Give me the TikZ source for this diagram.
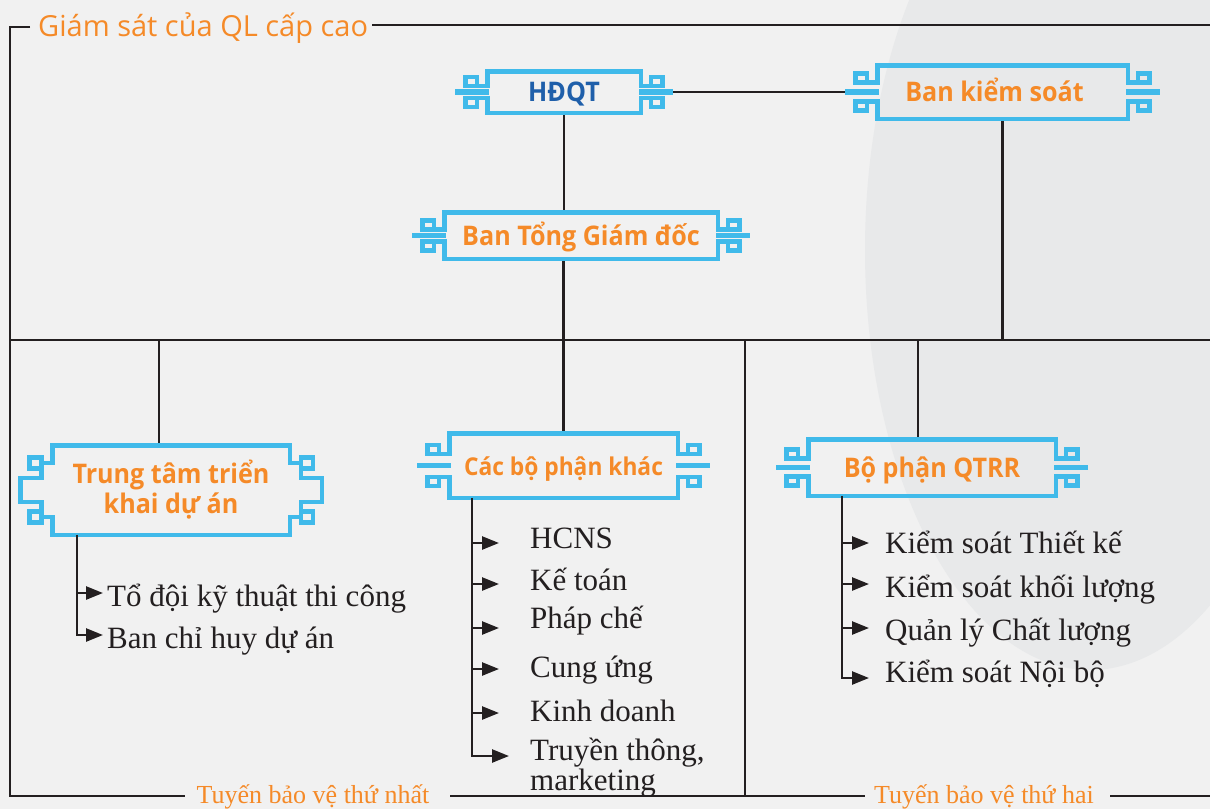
\documentclass[tikz,border=0pt]{standalone}
\usepackage{fontspec}
\setmainfont{Liberation Serif}
\newfontfamily\osans{Open Sans}
\newfontfamily\tfont[FakeStretch=0.93]{Open Sans}
\usetikzlibrary{calc,arrows.meta}
\definecolor{bgc}{HTML}{F1F1F1}
\definecolor{orn}{HTML}{40BAEA}
\definecolor{org}{HTML}{F58A28}
\definecolor{dkb}{HTML}{1F5FAA}
\definecolor{ink}{HTML}{231F20}
\definecolor{blob}{HTML}{E8E9EA}
\tikzset{
  ln/.style={draw=ink,line width=2.5pt},
  arr/.style={draw=ink,line width=2.5pt,-{Triangle[length=17pt,width=13pt]}},
  bluel/.style={draw=orn,line width=4.5pt},
  barl/.style={draw=orn,line width=5.5pt},
  title/.style={font=\tfont\bfseries\fontsize{27}{30}\selectfont,text=org,inner sep=0pt,outer sep=0pt,align=center},
  one/.style={text height=25pt,text depth=6pt},
  item/.style={font=\fontsize{31}{27}\selectfont,text=ink,inner sep=0pt,anchor=base west},
  lbl/.style={font=\fontsize{26}{30}\selectfont,text=org,inner sep=0pt,anchor=base},
}
% ornament with bars: #1 node, #2 offset of the small squares from middle
\newcommand\ornbar[2]{%
  \pgfmathsetmacro\ornA{#2-4.5}%
  \pgfmathsetmacro\ornB{#2+4.5}%
  \draw[bluel] ($(#1.west)+(-10.25,-\ornA)$) -- ($(#1.west)+(0,-\ornA)$) |- (#1.north east) -- ($(#1.east)+(0,-\ornA)$) -- ($(#1.east)+(10.25,-\ornA)$);
  \draw[bluel] ($(#1.west)+(-10.25,\ornA)$) -- ($(#1.west)+(0,\ornA)$) |- (#1.south east) -- ($(#1.east)+(0,\ornA)$) -- ($(#1.east)+(10.25,\ornA)$);
  \draw[bluel] ($(#1.west)+(-21.75,-\ornB)$) rectangle ($(#1.west)+(-10.25,-\ornA)$);
  \draw[bluel] ($(#1.west)+(-21.75,\ornB)$) rectangle ($(#1.west)+(-10.25,\ornA)$);
  \draw[bluel] ($(#1.east)+(21.75,-\ornB)$) rectangle ($(#1.east)+(10.25,-\ornA)$);
  \draw[bluel] ($(#1.east)+(21.75,\ornB)$) rectangle ($(#1.east)+(10.25,\ornA)$);
  \draw[barl] ($(#1.west)+(-32,0)$) -- ($(#1.west)+(2,0)$);
  \draw[barl] ($(#1.east)+(32,0)$) -- ($(#1.east)+(-2,0)$);
}
% ornament with meander
\newcommand\ornmea[1]{%
  \draw[bluel] ($(#1.west)+(-11,-27)$) -- ($(#1.west)+(0,-27)$) |- (#1.north east) -- ($(#1.east)+(0,-27)$) -- ($(#1.east)+(11,-27)$);
  \draw[bluel] ($(#1.west)+(-11,27)$) -- ($(#1.west)+(0,27)$) |- (#1.south east) -- ($(#1.east)+(0,27)$) -- ($(#1.east)+(11,27)$);
  \draw[bluel] ($(#1.west)+(-23,-32.5)$) rectangle ($(#1.west)+(-11,-21.5)$);
  \draw[bluel] ($(#1.west)+(-23,32.5)$) rectangle ($(#1.west)+(-11,21.5)$);
  \draw[bluel] ($(#1.east)+(23,-32.5)$) rectangle ($(#1.east)+(11,-21.5)$);
  \draw[bluel] ($(#1.east)+(23,32.5)$) rectangle ($(#1.east)+(11,21.5)$);
  \draw[bluel] ($(#1.west)+(-11,-21.5)$) -- ++(0,9.5) -- ++(-21,0) -- ++(0,24) -- ++(21,0) -- ++(0,9.5);
  \draw[bluel] ($(#1.east)+(11,-21.5)$) -- ++(0,9.5) -- ++(21,0) -- ++(0,24) -- ++(-21,0) -- ++(0,9.5);
}
\begin{document}
\begin{tikzpicture}[x=1pt,y=-1pt]
\useasboundingbox (0,0) rectangle (1210,809);
\fill[bgc] (0,0) rectangle (1210,809);
\begin{scope}
  \clip (0,0) rectangle (1210,809);
  \fill[blob] (1090,250) ellipse [x radius=225pt, y radius=420pt];
\end{scope}

% boxes
\node[title,one,minimum width=153.5pt,minimum height=41.5pt,text=dkb] (hdqt) at (564,92) {HĐQT};
\node[title,one,minimum width=250.5pt,minimum height=53.5pt] (bks) at (1002.5,92) {Ban kiểm soát\hspace*{16pt}};
\node[title,one,minimum width=273.5pt,minimum height=46.5pt] (btgd) at (581,235.5) {Ban Tổng Giám đốc};
\node[title,minimum width=237.5pt,minimum height=89.5pt] (ttk) at (171,490) {Trung tâm triển\\khai dự án};
\node[title,one,minimum width=228.5pt,minimum height=64.5pt,font=\tfont\bfseries\fontsize{24.5}{30}\selectfont] (cbp) at (563.5,465.5) {Các bộ phận khác};
\node[title,one,minimum width=247.5pt,minimum height=56.5pt] (qtrr) at (932,467.5) {Bộ phận QTRR};

% frame labels
\node[font=\osans\fontsize{29}{34}\selectfont,text=org,anchor=base west,inner sep=0pt] (gs) at (38,36) {Giám sát của QL cấp cao};
\node[lbl] (tb1) at (313,803) {Tuyến bảo vệ thứ nhất};
\node[lbl] (tb2) at (984,803) {Tuyến bảo vệ thứ hai};

% frame
\coordinate (busL) at (10,340);
\coordinate (busR) at (1210,340);
\draw[ln] (30,27) -- (10,27) -- (10,796) -- (185,796);
\draw[ln] (372,25) -- (1210,25);
\draw[ln] (450,796) -- (865,796);
\draw[ln] (1110,796) -- (1210,796);
\draw[ln] (busL) -- (busR);
\draw[ln] (745,340) -- (745,796);

% connectors
\draw[ln] ($(hdqt.east)+(32,0)$) -- ($(bks.west)+(-32,0)$);
\draw[ln] (hdqt.south) -- (hdqt.south |- btgd.north);
\draw[ln] (cbp.north |- btgd.south) -- (cbp.north);
\draw[ln] (bks.south) -- (bks.south |- busL);
\coordinate (ttkT) at ($(ttk.north)+(-12,0)$);
\draw[ln] (ttkT) -- (ttkT |- busL);
\coordinate (qtT) at ($(qtrr.north)+(-14,0)$);
\draw[ln] (qtT) -- (qtT |- busL);

% ornaments
\ornbar{hdqt}{10.5}
\ornbar{bks}{14}
\ornbar{btgd}{10.5}
\ornbar{cbp}{16}
\ornbar{qtrr}{13.5}
\ornmea{ttk}

% list under Trung tam
\coordinate (tk0) at ($(ttk.south west)+(24.75,0)$);
\coordinate (tk1) at (103,593);
\coordinate (tk2) at (103,635);
\draw[arr] (tk0 |- tk1) -- (tk1);
\draw[arr] (tk0) |- (tk2);
\node[item] (tki1) at (107,606) {Tổ đội kỹ thuật thi công};
\node[item] (tki2) at (107,648) {Ban chỉ huy dự án};

% list under Cac bo phan khac
\coordinate (cb0) at ($(cbp.south west)+(22.75,0)$);
\coordinate (cb1) at (499,543);
\coordinate (cb2) at (499,584);
\coordinate (cb3) at (499,628);
\coordinate (cb4) at (499,669);
\coordinate (cb5) at (499,713);
\coordinate (cb6) at (509,756);
\foreach \c in {cb1,cb2,cb3,cb4,cb5} \draw[arr] (cb0 |- \c) -- (\c);
\draw[arr] (cb0) |- (cb6);
\node[item] (cbi1) at (530,548) {HCNS};
\node[item] (cbi2) at (530,590) {Kế toán};
\node[item] (cbi3) at (530,628) {Pháp chế};
\node[item] (cbi4) at (530,677) {Cung ứng};
\node[item] (cbi5) at (530,721) {Kinh doanh};
\node[item,align=left] (cbi6) at (530,790) {Truyền thông,\\marketing};

% list under QTRR
\coordinate (qt0) at ($(qtrr.south west)+(33.75,0)$);
\coordinate (qt1) at (869,543);
\coordinate (qt2) at (869,584);
\coordinate (qt3) at (869,628);
\coordinate (qt4) at (869,678);
\foreach \c in {qt1,qt2,qt3} \draw[arr] (qt0 |- \c) -- (\c);
\draw[arr] (qt0) |- (qt4);
\node[item] (qti1) at (885,553) {Kiểm soát Thiết kế};
\node[item] (qti2) at (885,597) {Kiểm soát khối lượng};
\node[item] (qti3) at (885,640) {Quản lý Chất lượng};
\node[item] (qti4) at (885,682) {Kiểm soát Nội bộ};
\end{tikzpicture}
\end{document}
